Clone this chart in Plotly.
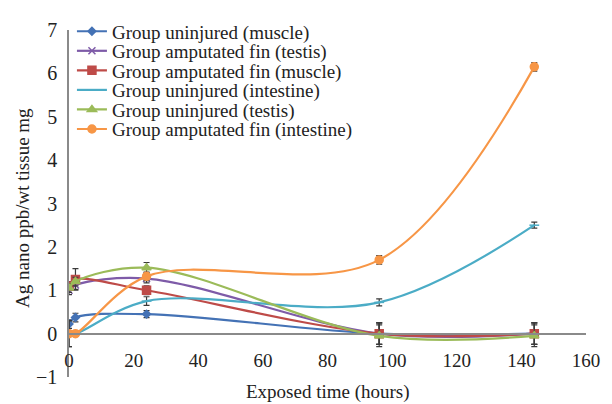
import plotly.graph_objects as go

hours = [0, 2, 24, 96, 144]
series_names = [
    "Group uninjured (muscle)",
    "Group amputated fin (testis)",
    "Group amputated fin (muscle)",
    "Group uninjured (intestine)",
    "Group uninjured (testis)",
    "Group amputated fin (intestine)",
]
uninjured_muscle = [0.22, 0.37, 0.45, 0.0, 0.0]
amputated_testis = [1.0, 1.12, 1.27, 0.0, 0.0]
amputated_muscle = [1.1, 1.25, 1.0, 0.0, 0.0]
uninjured_intestine = [0.0, 0.0, 0.75, 0.72, 2.5]
uninjured_testis = [1.05, 1.2, 1.52, -0.05, -0.05]
amputated_intestine = [0.0, 0.0, 1.32, 1.7, 6.15]

err_uninjured_muscle = [0.1, 0.1, 0.08, 0.25, 0.25]
err_amputated_testis = [0.1, 0.1, 0.1, 0.25, 0.25]
err_amputated_muscle = [0.1, 0.25, 0.1, 0.25, 0.25]
err_uninjured_intestine = [0.3, 0.05, 0.1, 0.08, 0.07]
err_uninjured_testis = [0.1, 0.1, 0.12, 0.25, 0.25]
err_amputated_intestine = [0.3, 0.05, 0.1, 0.1, 0.1]

values = [uninjured_muscle, amputated_testis, amputated_muscle,
          uninjured_intestine, uninjured_testis, amputated_intestine]
errors = [err_uninjured_muscle, err_amputated_testis, err_amputated_muscle,
          err_uninjured_intestine, err_uninjured_testis, err_amputated_intestine]
colors = ["#4472B5", "#7E5BA8", "#BE4B48", "#4BACC6", "#9BBB59", "#F79646"]
symbols = ["diamond", "x-thin", "square", "line-ew", "triangle-up", "circle"]
sizes = [6, 7, 8, 7, 8, 8]

FONT = "Liberation Serif"
W, H = 612, 404
ML, MR, MT, MB = 69, 15, 22, 27
PW = W - ML - MR
PH = H - MT - MB

fig = go.Figure()
legend_layouts = {}
for i, (name, v, e, c, s, sz) in enumerate(zip(series_names, values, errors, colors, symbols, sizes)):
    lg = "legend" if i == 0 else f"legend{i + 1}"
    fig.add_trace(go.Scatter(
        x=hours, y=v, name=name, mode="lines+markers", legend=lg,
        line=dict(color=c, width=2.2, shape="spline", smoothing=1.0),
        marker=dict(color=c, symbol=s, size=sz, line=dict(color=c, width=1.5)),
        error_y=dict(type="data", array=e, visible=True, color="#3a3a3a",
                     thickness=1.2, width=3),
    ))
    row_top_px = 4 + 20 * i
    legend_layouts[lg] = dict(
        x=(72 - ML) / PW, y=(H - MB - row_top_px) / PH,
        xanchor="left", yanchor="top",
        bgcolor="rgba(0,0,0,0)", borderwidth=0,
        font=dict(family=FONT, size=19, color="#222"),
        itemwidth=30,
    )

fig.update_layout(
    width=W, height=H,
    margin=dict(l=ML, r=MR, t=MT, b=MB),
    paper_bgcolor="white", plot_bgcolor="white",
    font=dict(family=FONT, size=19, color="#222"),
    showlegend=True,
    xaxis=dict(range=[0, 160], tickvals=[0, 20, 40, 60, 80, 100, 120, 140, 160],
               showgrid=False, zeroline=False, showline=True, linecolor="#8a8a8a",
               linewidth=1.5, anchor="free", position=0.125, ticks="",
               ticklabelstandoff=10,
               tickfont=dict(family=FONT, size=19)),
    yaxis=dict(range=[-1, 7], tickvals=[-1, 0, 1, 2, 3, 4, 5, 6, 7],
               ticktext=["\u22121", "0", "1", "2", "3", "4", "5", "6", "7"],
               showgrid=False, zeroline=False, showline=True, linecolor="#8a8a8a",
               linewidth=1.5, ticks="", ticklabelstandoff=6,
               tickfont=dict(family=FONT, size=20)),
    annotations=[
        dict(text="Exposed time (hours)", x=0.5, xref="paper",
             y=(H - MB - 406) / PH, yref="paper",
             xanchor="center", yanchor="bottom", showarrow=False,
             font=dict(family=FONT, size=19)),
        dict(text="Ag nano ppb/wt tissue mg", x=(22 - ML) / PW, xref="paper",
             y=(H - MB - 204) / PH, yref="paper",
             xanchor="center", yanchor="middle", textangle=-90, showarrow=False,
             font=dict(family=FONT, size=19)),
    ],
    **legend_layouts,
)

fig.write_html("out.html", config={"displayModeBar": False},
               post_script="document.body.style.margin='0';document.body.style.overflow='hidden';")
